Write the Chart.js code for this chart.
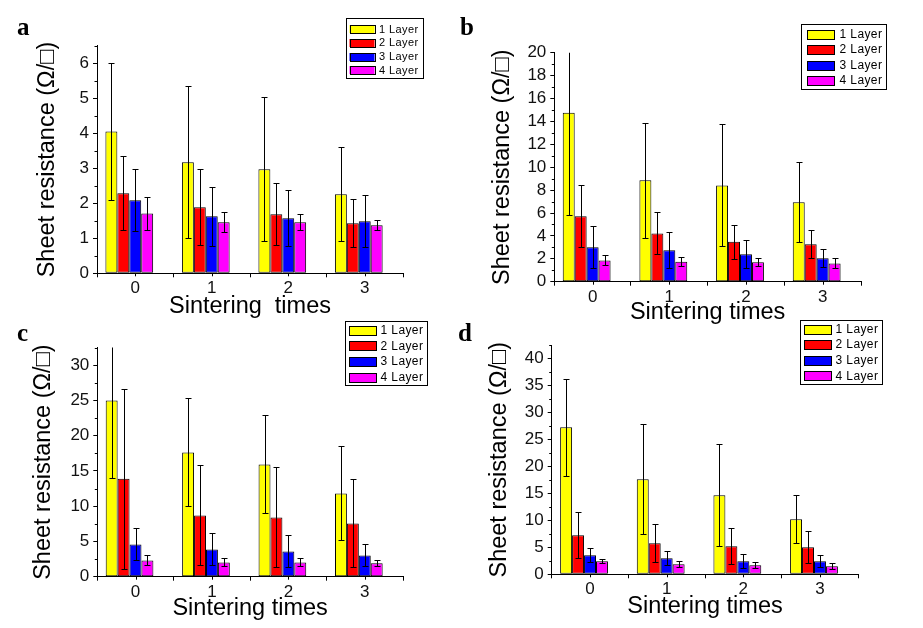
<!DOCTYPE html>
<html><head><meta charset="utf-8">
<script src="https://cdn.jsdelivr.net/npm/chart.js@4.4.1/dist/chart.umd.min.js"></script>
<style>
html,body{margin:0;padding:0;background:#fff;width:923px;height:628px;overflow:hidden}
canvas{position:absolute;left:0;top:0}
</style></head>
<body>
<canvas id="pa" width="923" height="628"></canvas>
<canvas id="pb" width="923" height="628"></canvas>
<canvas id="pc" width="923" height="628"></canvas>
<canvas id="pd" width="923" height="628"></canvas>
<script>
// ---------- data ----------
const categories = ['0', '1', '2', '3'];
const seriesLabels = ['1 Layer', '2 Layer', '3 Layer', '4 Layer'];
const seriesColors = ['#ffff00', '#ff0000', '#0000ff', '#ff00ff'];
const yTitleText = 'Sheet resistance (\u03A9/\u25A1)';

// panel a
const aLayer1 = [4.05, 3.17, 2.97, 2.26];
const aLayer2 = [2.29, 1.89, 1.69, 1.43];
const aLayer3 = [2.09, 1.63, 1.57, 1.49];
const aLayer4 = [1.71, 1.46, 1.46, 1.37];
const aErr1 = [1.95, 2.17, 2.06, 1.34];
const aErr2 = [1.05, 1.09, 0.88, 0.68];
const aErr3 = [0.88, 0.85, 0.80, 0.74];
const aErr4 = [0.46, 0.28, 0.23, 0.14];
const aYMax = 6.5, aYStep = 1, aYMinor = 0.5;

// panel b
const bLayer1 = [14.76, 8.85, 8.41, 6.93];
const bLayer2 = [5.71, 4.22, 3.49, 3.26];
const bLayer3 = [3.00, 2.74, 2.39, 2.04];
const bLayer4 = [1.86, 1.75, 1.69, 1.60];
const bErr1 = [8.9, 5.0, 5.33, 3.49];
const bErr2 = [2.7, 1.84, 1.49, 1.22];
const bErr3 = [1.83, 1.57, 1.22, 0.78];
const bErr4 = [0.44, 0.38, 0.35, 0.44];
const bYMax = 20, bYStep = 2, bYMinor = 1;

// panel c
const cLayer1 = [25.0, 17.62, 15.92, 11.81];
const cLayer2 = [13.89, 8.69, 8.41, 7.56];
const cLayer3 = [4.58, 3.87, 3.59, 3.02];
const cLayer4 = [2.31, 2.03, 2.03, 1.89];
const cErr1 = [11.0, 7.65, 6.94, 6.66];
const cErr2 = [12.75, 7.1, 7.08, 6.23];
const cErr3 = [2.27, 2.27, 2.27, 1.56];
const cErr4 = [0.71, 0.57, 0.57, 0.42];
const cYMax = 32.5, cYStep = 5, cYMinor = 2.5;

// panel d
const dLayer1 = [27.26, 17.62, 14.65, 10.2];
const dLayer2 = [7.23, 5.75, 5.19, 5.01];
const dLayer3 = [3.52, 2.97, 2.41, 2.41];
const dLayer4 = [2.41, 1.85, 1.67, 1.48];
const dErr1 = [9.05, 10.2, 9.46, 4.45];
const dErr2 = [4.27, 3.52, 3.34, 2.97];
const dErr3 = [1.3, 1.3, 1.3, 1.11];
const dErr4 = [0.37, 0.56, 0.56, 0.56];
const dYMax = 42.5, dYStep = 5, dYMinor = 2.5;

// ---------- drawing ----------
const SANS = "'Liberation Sans', Arial, sans-serif";
const TITLE_SIZE = 23.5;
const TICK_SIZE = 17;

function extrasPlugin(p) {
  return {
    id: 'extras_' + p.letter,
    afterDatasetsDraw(chart) {
      const ctx = chart.ctx, ca = chart.chartArea, ys = chart.scales.y;
      ctx.save();
      ctx.beginPath();
      ctx.rect(ca.left - 2, ca.top, ca.right - ca.left + 4, ca.bottom - ca.top + 2);
      ctx.clip();
      ctx.strokeStyle = '#000';
      ctx.lineWidth = 1;
      for (let i = 0; i < 4; i++) {
        const meta = chart.getDatasetMeta(i);
        const vals = chart.data.datasets[i].data;
        const errs = p.errors[i];
        meta.data.forEach((el, j) => {
          const v = vals[j], e = errs[j];
          const x = Math.round(el.x) + 0.5;
          const yt = Math.round(ys.getPixelForValue(v + e)) + 0.5;
          const yb = Math.round(ys.getPixelForValue(v - e)) + 0.5;
          ctx.beginPath();
          ctx.moveTo(x, yt); ctx.lineTo(x, yb);
          ctx.moveTo(x - 3, yt); ctx.lineTo(x + 3, yt);
          ctx.moveTo(x - 3, yb); ctx.lineTo(x + 3, yb);
          ctx.stroke();
        });
      }
      ctx.restore();
    },
    afterDraw(chart) {
      const ctx = chart.ctx, ca = chart.chartArea, ys = chart.scales.y, xs = chart.scales.x;
      ctx.save();
      ctx.strokeStyle = '#000';
      ctx.lineWidth = 1;
      // minor y ticks
      for (let k = 0; ; k++) {
        const v = k * p.yMinor;
        if (v > p.yMax + 1e-9) break;
        const r = v / p.yStep;
        if (Math.abs(r - Math.round(r)) < 1e-6) continue;
        const y = Math.round(ys.getPixelForValue(v)) + 0.5;
        ctx.beginPath();
        ctx.moveTo(ca.left - 2.5, y); ctx.lineTo(ca.left, y);
        ctx.stroke();
      }
      // category centre ticks
      categories.forEach((c, j) => {
        const x = Math.round(xs.getPixelForValue(j)) + 0.5;
        ctx.beginPath();
        ctx.moveTo(x, ca.bottom); ctx.lineTo(x, ca.bottom + 3);
        ctx.stroke();
      });
      // legend
      const L = p.legend;
      ctx.fillStyle = '#fff';
      ctx.fillRect(L.x, L.y, L.w, L.h);
      ctx.strokeRect(Math.round(L.x) + 0.5, Math.round(L.y) + 0.5, Math.round(L.w), Math.round(L.h));
      ctx.font = L.font + 'px ' + SANS;
      ctx.textBaseline = 'middle';
      ctx.textAlign = 'left';
      if ('letterSpacing' in ctx) ctx.letterSpacing = '0.4px';
      for (let i = 0; i < 4; i++) {
        const ds = chart.data.datasets[i];
        const cy = L.y + L.first + i * L.gap;
        const sy = Math.round(cy - L.sh / 2);
        ctx.fillStyle = ds.backgroundColor;
        ctx.fillRect(L.x + L.sx, sy, L.sw, L.sh);
        ctx.strokeRect(Math.round(L.x + L.sx) + 0.5, sy + 0.5, L.sw, L.sh);
        ctx.fillStyle = '#000';
        ctx.fillText(ds.label, L.x + L.tx, cy + 0.5);
      }
      if ('letterSpacing' in ctx) ctx.letterSpacing = '0px';
      // panel letter
      ctx.font = "bold 25px 'Liberation Serif', 'Times New Roman', serif";
      ctx.textBaseline = 'alphabetic';
      ctx.fillStyle = '#000';
      ctx.fillText(p.letter, p.letterX, p.letterY);
      ctx.restore();
    }
  };
}

function makePanel(id, p) {
  const lh = TITLE_SIZE * 1.2;
  const padLeft = p.yTitleX - lh / 2;
  const yWidth = p.axisLeft - padLeft;
  const xHeight = p.xTitleY + lh / 2 - p.axisBottom;
  const datasets = p.values.map((vals, i) => ({
    label: seriesLabels[i],
    data: vals,
    backgroundColor: seriesColors[i],
    borderColor: '#000',
    borderWidth: 1,
    borderSkipped: false,
    categoryPercentage: 0.78,
    barPercentage: 1.0
  }));
  // empty fifth slot (keeps the group offset as in the original plot)
  datasets.push({ label: '', data: categories.map(() => null), backgroundColor: 'rgba(0,0,0,0)',
    borderWidth: 0, categoryPercentage: 0.78, barPercentage: 1.0 });

  new Chart(document.getElementById(id), {
    type: 'bar',
    data: { labels: categories, datasets },
    options: {
      responsive: false,
      animation: false,
      devicePixelRatio: 1,
      layout: { padding: { left: padLeft, top: p.axisTop, right: 923 - p.axisRight,
                           bottom: 628 - p.axisBottom - xHeight } },
      plugins: { legend: { display: false }, tooltip: { enabled: false }, title: { display: false } },
      scales: {
        x: {
          type: 'category',
          offset: true,
          grid: { display: true, offset: true, drawOnChartArea: false, drawTicks: true,
                  tickLength: 4, tickColor: '#000', tickWidth: 1 },
          border: { display: true, color: '#000', width: 1 },
          ticks: { color: '#111', font: { family: SANS, size: TICK_SIZE }, padding: 1,
                   maxRotation: 0, autoSkip: false },
          title: { display: true, text: p.xTitle, color: '#000', padding: 0,
                   font: { family: SANS, size: TITLE_SIZE } },
          afterFit(s) { s.height = xHeight; }
        },
        y: {
          type: 'linear',
          min: 0,
          max: p.yMax,
          grid: { display: true, drawOnChartArea: false, drawTicks: true,
                  tickLength: 4, tickColor: '#000', tickWidth: 1 },
          border: { display: true, color: '#000', width: 1 },
          ticks: { stepSize: p.yStep, includeBounds: false, autoSkip: false, color: '#111',
                   font: { family: SANS, size: TICK_SIZE }, padding: 4 },
          title: { display: true, text: yTitleText, color: '#000', padding: 0,
                   font: { family: SANS, size: TITLE_SIZE } },
          afterFit(s) { s.width = yWidth; }
        }
      }
    },
    plugins: [extrasPlugin(p)]
  });
}

makePanel('pa', {
  letter: 'a', letterX: 17, letterY: 35,
  values: [aLayer1, aLayer2, aLayer3, aLayer4], errors: [aErr1, aErr2, aErr3, aErr4],
  yMax: aYMax, yStep: aYStep, yMinor: aYMinor,
  axisLeft: 97, axisRight: 403, axisTop: 45.8, axisBottom: 273.3,
  yTitleX: 47.7, xTitleY: 307, xTitle: 'Sintering  times',
  legend: { x: 346, y: 18, w: 77, h: 60, font: 11, sx: 3.5, sw: 25, sh: 8, first: 11, gap: 13.8, tx: 33 }
});
makePanel('pb', {
  letter: 'b', letterX: 460, letterY: 35,
  values: [bLayer1, bLayer2, bLayer3, bLayer4], errors: [bErr1, bErr2, bErr3, bErr4],
  yMax: bYMax, yStep: bYStep, yMinor: bYMinor,
  axisLeft: 554.3, axisRight: 861, axisTop: 52.7, axisBottom: 281.7,
  yTitleX: 502.7, xTitleY: 312.6, xTitle: 'Sintering times',
  legend: { x: 801, y: 24, w: 85, h: 65, font: 12, sx: 6, sw: 27, sh: 9, first: 10.2, gap: 15.4, tx: 38.5 }
});
makePanel('pc', {
  letter: 'c', letterX: 17, letterY: 341,
  values: [cLayer1, cLayer2, cLayer3, cLayer4], errors: [cErr1, cErr2, cErr3, cErr4],
  yMax: cYMax, yStep: cYStep, yMinor: cYMinor,
  axisLeft: 97.3, axisRight: 403, axisTop: 347.5, axisBottom: 576.7,
  yTitleX: 43.3, xTitleY: 608.6, xTitle: 'Sintering times',
  legend: { x: 345, y: 321, w: 82, h: 64, font: 12, sx: 4, sw: 27, sh: 9, first: 9, gap: 15.8, tx: 35.5 }
});
makePanel('pd', {
  letter: 'd', letterX: 458, letterY: 341,
  values: [dLayer1, dLayer2, dLayer3, dLayer4], errors: [dErr1, dErr2, dErr3, dErr4],
  yMax: dYMax, yStep: dYStep, yMinor: dYMinor,
  axisLeft: 551.7, axisRight: 858.3, axisTop: 345.2, axisBottom: 574.3,
  yTitleX: 499.3, xTitleY: 607, xTitle: 'Sintering times',
  legend: { x: 800, y: 320, w: 82, h: 64, font: 12, sx: 4, sw: 27, sh: 9, first: 9, gap: 15.6, tx: 35.5 }
});
</script>
</body></html>
